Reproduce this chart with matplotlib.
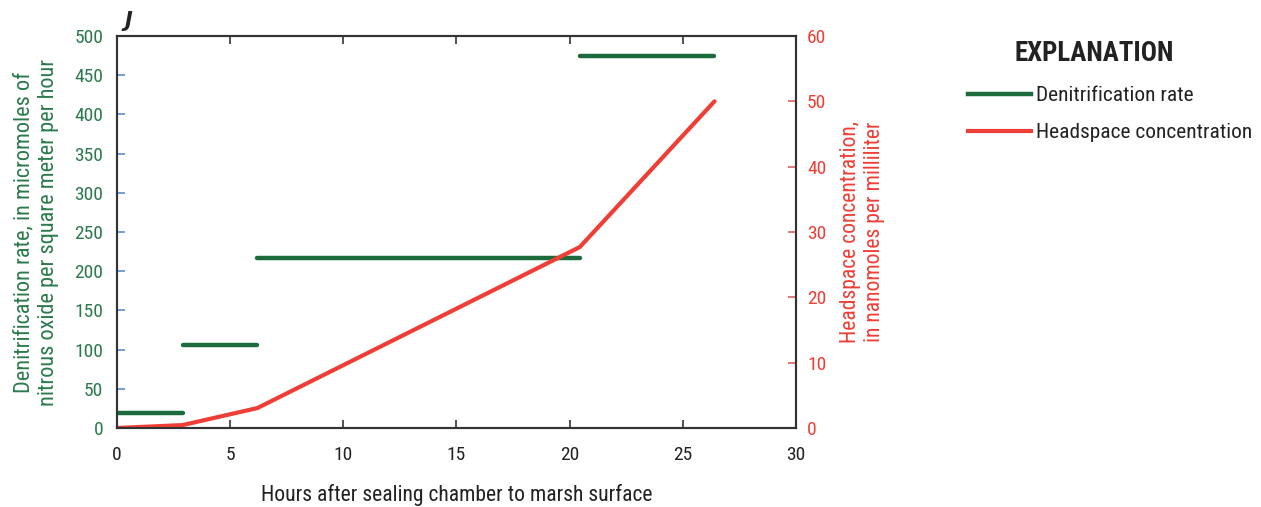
import matplotlib
matplotlib.use("Agg")
import matplotlib.pyplot as plt
from matplotlib import font_manager
from matplotlib.lines import Line2D

# pick a narrow font if one is available
names = {f.name for f in font_manager.fontManager.ttflist}
prefs = ['Roboto Condensed', 'Liberation Sans Narrow', 'DejaVu Sans Condensed',
         'Open Sans Condensed', 'Roboto', 'DejaVu Sans']
base = [n for n in prefs if n in names][0]
plt.rcParams['font.family'] = [base, 'DejaVu Sans']

# sampling times (hours) and headspace concentration (nmol/mL)
hours = [0, 2.9, 6.2, 20.45, 26.4]
headspace = [0, 0.45, 3.05, 27.7, 50.0]
# denitrification rate for each interval between samples
rate = [19, 106, 217, 475]

green = '#1b6b3d'
green_txt = '#2a7a4c'
red = '#ef3e36'

fig = plt.figure(figsize=(12.61, 5.07), dpi=100)
ax = fig.add_axes([0.0928, 0.1558, 0.5384, 0.7732])
ax2 = ax.twinx()

for i in range(len(rate)):
    ax.plot([hours[i], hours[i + 1]], [rate[i], rate[i]], color=green, lw=3.2,
            solid_capstyle='round', zorder=3)
ax2.plot(hours, headspace, color=red, lw=3.0, solid_capstyle='round')

ax.set_xlim(0, 30)
ax.set_ylim(0, 500)
ax2.set_ylim(0, 60)
ax.set_xticks(range(0, 31, 5))
ax.set_yticks(range(0, 501, 50))
ax2.set_yticks(range(0, 61, 10))

ax.tick_params(axis='x', direction='in', length=6, width=1.2, color='#333333',
               labelsize=14, pad=13, top=True, labelcolor='#222222')
ax.tick_params(axis='y', direction='in', length=6, width=1.2, color='#5b8fd0',
               labelsize=14, pad=10, labelcolor=green_txt)
ax2.tick_params(axis='y', direction='in', length=6, width=1.2, color='#e06060',
                labelsize=14, pad=8, labelcolor=red)

for a in (ax, ax2):
    for s in a.spines.values():
        s.set_color('#333333')
        s.set_linewidth(1.5)

ax.set_xlabel('Hours after sealing chamber to marsh surface', fontsize=15.6,
              color='#222222', labelpad=14)
ax.set_ylabel('Denitrification rate, in micromoles of\nnitrous oxide per square meter per hour',
              fontsize=16, color=green_txt, labelpad=11, linespacing=1.2)
ax2.set_ylabel('Headspace concentration,\nin nanomoles per milliliter',
               fontsize=15.6, color=red, labelpad=10, linespacing=1.2)

fig.text(0.099, 0.958, 'J', fontsize=15, fontweight='bold', style='italic',
         color='#222222', ha='left', va='center', family='DejaVu Sans')

# explanation
fig.text(0.868, 0.895, 'EXPLANATION', fontsize=19.4, fontweight='bold',
         color='#222222', ha='center', va='center')
handles = [Line2D([], [], color=green, lw=3.2),
           Line2D([], [], color=red, lw=3.0)]
fig.legend(handles, ['Denitrification rate', 'Headspace concentration'],
           loc='upper left', bbox_to_anchor=(0.7676, 0.830), frameon=False,
           borderpad=0, borderaxespad=0,
           fontsize=15.4, handlelength=2.95, handletextpad=0.23,
           labelspacing=0.85, labelcolor='#222222')

fig.savefig('out.png', dpi=100)
